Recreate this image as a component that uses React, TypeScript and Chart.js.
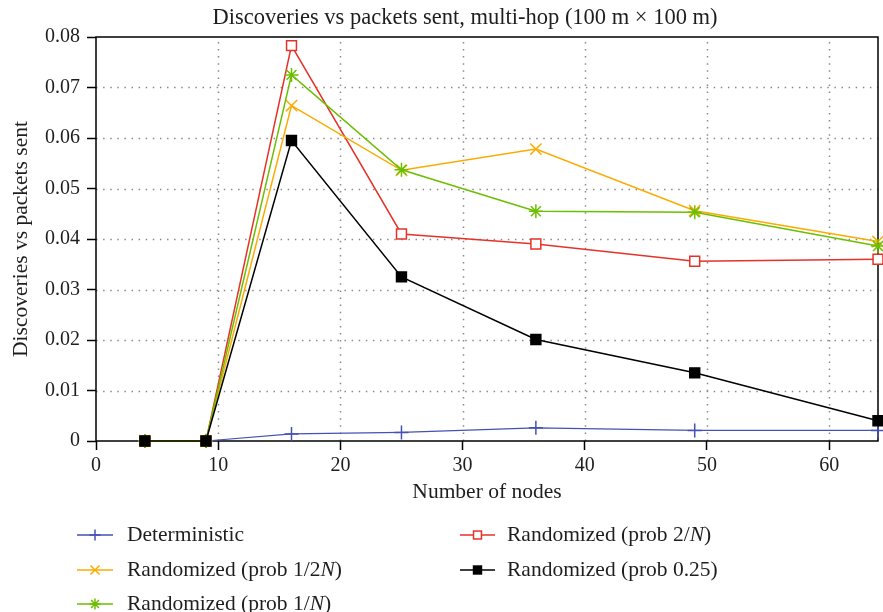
import React, { useEffect, useRef } from 'react';
import { Chart, registerables } from 'chart.js';

Chart.register(...registerables);

// ---------- data ----------
const nodes = [4, 9, 16, 25, 36, 49, 64];
const deterministic = [0, 0, 0.0014, 0.0017, 0.0026, 0.0021, 0.0021];
const probHalfN = [0, 0, 0.0664, 0.0536, 0.0578, 0.0456, 0.0395];
const probOneN = [0, 0, 0.0725, 0.0537, 0.0455, 0.0453, 0.0386];
const probTwoN = [0, 0, 0.0783, 0.0410, 0.0390, 0.0356, 0.0360];
const probQuarter = [0, 0, 0.0595, 0.0325, 0.0201, 0.0135, 0.0040];

const titleText = 'Discoveries vs packets sent, multi-hop (100 m \u00d7 100 m)';
const xTitle = 'Number of nodes';
const yTitle = 'Discoveries vs packets sent';

const FONT = '"Liberation Serif", "DejaVu Serif", serif';
const TEXT = '#1e1e1e';

type Part = { t: string; i?: boolean };
type Series = {
  parts: Part[];
  data: number[];
  color: string;
  style: 'cross' | 'crossRot' | 'star' | 'rectOpen' | 'rectFill';
  radius: number;
  order: number;
  width: number;
};

const series: Series[] = [
  { parts: [{ t: 'Deterministic' }], data: deterministic, color: '#4552b4', style: 'cross', radius: 7, order: 4, width: 1.2 },
  { parts: [{ t: 'Randomized (prob 1/2' }, { t: 'N', i: true }, { t: ')' }], data: probHalfN, color: '#fbab00', style: 'crossRot', radius: 8, order: 2, width: 1.5 },
  { parts: [{ t: 'Randomized (prob 1/' }, { t: 'N', i: true }, { t: ')' }], data: probOneN, color: '#6cbf00', style: 'star', radius: 7, order: 1, width: 1.5 },
  { parts: [{ t: 'Randomized (prob 2/' }, { t: 'N', i: true }, { t: ')' }], data: probTwoN, color: '#e6332a', style: 'rectOpen', radius: 7, order: 3, width: 1.5 },
  { parts: [{ t: 'Randomized (prob 0.25)' }], data: probQuarter, color: '#000000', style: 'rectFill', radius: 7, order: 0, width: 1.5 },
];

function chartStyle(s: Series): any {
  switch (s.style) {
    case 'cross': return 'cross';
    case 'crossRot': return 'crossRot';
    case 'star': return 'star';
    default: return 'rect';
  }
}

function drawMarker(ctx: CanvasRenderingContext2D, s: Series, x: number, y: number, scale: number) {
  const r = s.radius * scale;
  ctx.save();
  ctx.strokeStyle = s.color;
  ctx.lineWidth = 1.5;
  ctx.beginPath();
  if (s.style === 'cross' || s.style === 'star') {
    ctx.moveTo(x - r, y); ctx.lineTo(x + r, y);
    ctx.moveTo(x, y - r); ctx.lineTo(x, y + r);
  }
  if (s.style === 'crossRot' || s.style === 'star') {
    const d = r * Math.SQRT1_2;
    ctx.moveTo(x - d, y - d); ctx.lineTo(x + d, y + d);
    ctx.moveTo(x - d, y + d); ctx.lineTo(x + d, y - d);
  }
  ctx.stroke();
  if (s.style === 'rectOpen' || s.style === 'rectFill') {
    const h = r * Math.SQRT1_2;
    ctx.fillStyle = s.style === 'rectFill' ? s.color : '#ffffff';
    ctx.fillRect(x - h, y - h, 2 * h, 2 * h);
    ctx.strokeRect(x - h, y - h, 2 * h, 2 * h);
  }
  ctx.restore();
}

const gridFramePlugin = {
  id: 'gridFrame',
  beforeDatasetsDraw(chart: any) {
    const { ctx, chartArea } = chart;
    const xs = chart.scales.x;
    const ys = chart.scales.y;
    ctx.save();
    ctx.strokeStyle = '#8a8a8a';
    ctx.lineWidth = 1.5;
    ctx.setLineDash([1.5, 5.6]);
    xs.ticks.forEach((t: any) => {
      if (t.value <= xs.min || t.value >= xs.max) return;
      const px = Math.round(xs.getPixelForValue(t.value)) + 0.5;
      ctx.beginPath();
      ctx.moveTo(px, chartArea.bottom);
      ctx.lineTo(px, chartArea.top);
      ctx.stroke();
    });
    ys.ticks.forEach((t: any) => {
      if (t.value <= ys.min + 1e-9 || t.value >= ys.max - 1e-9) return;
      const py = Math.round(ys.getPixelForValue(t.value)) + 0.5;
      ctx.beginPath();
      ctx.moveTo(chartArea.left, py);
      ctx.lineTo(chartArea.right, py);
      ctx.stroke();
    });
    ctx.setLineDash([]);
    ctx.strokeStyle = '#000';
    ctx.lineWidth = 1.5;
    ctx.strokeRect(chartArea.left, chartArea.top, chartArea.right - chartArea.left, chartArea.bottom - chartArea.top);
    ctx.restore();
  },
};

const textPlugin = {
  id: 'customText',
  afterDraw(chart: any) {
    const ctx: CanvasRenderingContext2D = chart.ctx;
    ctx.save();
    // title
    ctx.fillStyle = TEXT;
    ctx.textAlign = 'center';
    ctx.textBaseline = 'middle';
    ctx.font = `22.5px ${FONT}`;
    ctx.fillText(titleText, 465, 18);

    // legend
    const cols = [
      { x0: 77, x1: 113, tx: 127 },
      { x0: 460, x1: 495, tx: 507 },
    ];
    const rows = [535, 570, 604];
    const slots = [
      [0, 0], [0, 1], [0, 2], [1, 0], [1, 1],
    ];
    series.forEach((s, i) => {
      const [c, r] = slots[i];
      const col = cols[c];
      const y = rows[r];
      ctx.strokeStyle = s.color;
      ctx.lineWidth = 1.5;
      ctx.beginPath();
      ctx.moveTo(col.x0, y);
      ctx.lineTo(col.x1, y);
      ctx.stroke();
      drawMarker(ctx, s, (col.x0 + col.x1) / 2, y, 0.8);
      let x = col.tx;
      ctx.fillStyle = TEXT;
      ctx.textBaseline = 'middle';
      ctx.textAlign = 'left';
      s.parts.forEach((p) => {
        ctx.font = `${p.i ? 'italic ' : ''}21.5px ${FONT}`;
        ctx.fillText(p.t, x, y);
        x += ctx.measureText(p.t).width;
      });
    });
    ctx.restore();
  },
};

export default function App() {
  const ref = useRef<HTMLCanvasElement | null>(null);

  useEffect(() => {
    if (!ref.current) return;
    const chart = new Chart(ref.current, {
      type: 'line',
      data: {
        labels: nodes,
        datasets: series.map((s) => ({
          label: s.parts.map((p) => p.t).join(''),
          data: nodes.map((n, i) => ({ x: n, y: s.data[i] })),
          borderColor: s.color,
          backgroundColor: s.style === 'rectOpen' ? '#ffffff' : s.color,
          borderWidth: s.width,
          pointStyle: chartStyle(s),
          pointRadius: s.radius,
          pointBorderWidth: 1.5,
          pointBorderColor: s.color,
          pointBackgroundColor: s.style === 'rectOpen' ? '#ffffff' : s.color,
          tension: 0,
          fill: false,
          order: s.order,
          clip: false as any,
        })),
      },
      options: {
        responsive: false,
        animation: false,
        devicePixelRatio: 1,
        layout: { autoPadding: false, padding: { left: 0, right: 5, top: 37, bottom: 107 } } as any,
        plugins: {
          legend: { display: false },
          tooltip: { enabled: false },
          title: { display: false },
        },
        scales: {
          x: {
            type: 'linear',
            min: 0,
            max: 64,
            border: { display: false },
            grid: { display: true, drawOnChartArea: false, drawTicks: true, tickLength: 9, tickColor: '#000', tickWidth: 1.5 } as any,
            ticks: { stepSize: 10, includeBounds: false, color: TEXT, padding: 4, maxRotation: 0, font: { family: FONT, size: 20 } } as any,
            title: { display: true, text: xTitle, color: TEXT, font: { family: FONT, size: 21.5, lineHeight: 1.1 }, padding: { top: 0, bottom: 1 } },
            afterFit: (scale: any) => { scale.height = 64; },
          },
          y: {
            type: 'linear',
            min: 0,
            max: 0.08,
            border: { display: false },
            grid: { display: true, drawOnChartArea: false, drawTicks: true, tickLength: 9, tickColor: '#000', tickWidth: 1.5 } as any,
            ticks: {
              stepSize: 0.01,
              color: TEXT,
              padding: 7,
              font: { family: FONT, size: 20 },
              callback: (v: any) => (Math.abs(v) < 1e-12 ? '0' : Number(v).toFixed(2)),
            },
            title: { display: true, text: yTitle, color: TEXT, font: { family: FONT, size: 21.5, lineHeight: 1.1 }, padding: { top: 10, bottom: 0 } },
            afterFit: (scale: any) => { scale.width = 96; },
          },
        },
      },
      plugins: [gridFramePlugin, textPlugin],
    });
    return () => chart.destroy();
  }, []);

  return (
    <div style={{ position: 'fixed', left: 0, top: 0, width: 883, height: 612, background: '#fff' }}>
      <canvas ref={ref} width={883} height={612} style={{ display: 'block' }} />
    </div>
  );
}
